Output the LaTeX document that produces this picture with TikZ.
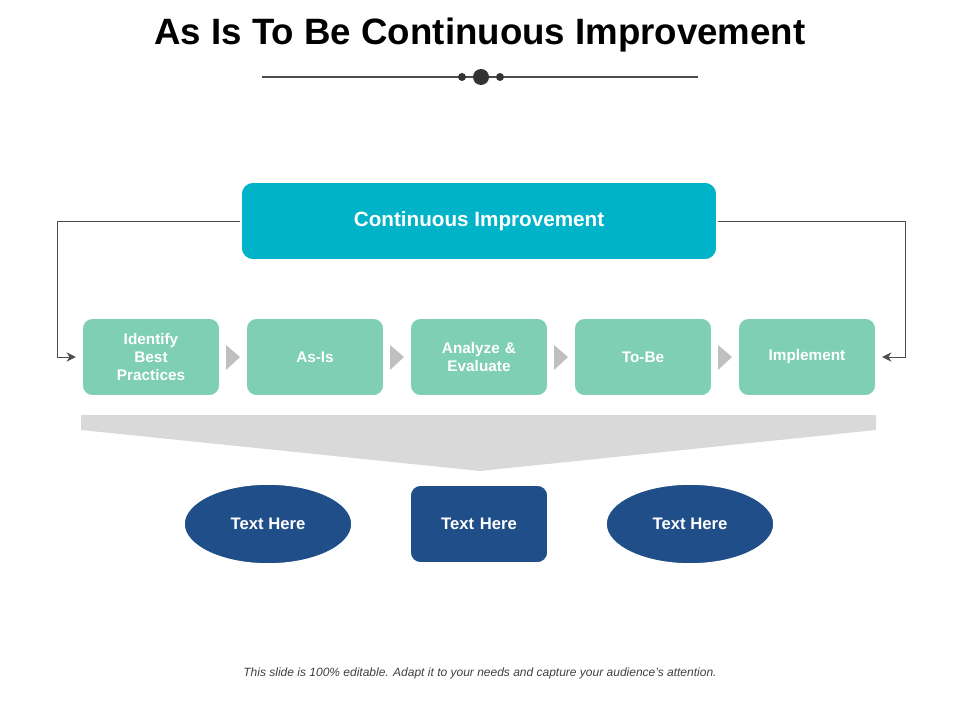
\documentclass[tikz,border=0pt]{standalone}
\usepackage{fontspec}
\setmainfont{Liberation Sans}
\usetikzlibrary{positioning,shapes.geometric,arrows.meta}
\definecolor{cyanbox}{HTML}{00B3C9}
\definecolor{mintbox}{HTML}{7ECFB4}
\definecolor{navybox}{HTML}{1F4E89}
\definecolor{chev}{HTML}{BFBFBF}
\definecolor{funnel}{HTML}{D9D9D9}
\tikzset{
  stepbox/.style={fill=mintbox, draw=white, line width=1.2pt, rounded corners=8pt, minimum width=103.5pt, minimum height=58.5pt, text width=90pt, align=center, text=white, font=\bfseries\fontsize{11.5}{13.5}\selectfont},
  textbox/.style={fill=navybox, draw=white, line width=1.2pt, text=white, font=\bfseries\fontsize{12.5}{14}\selectfont},
  loopline/.style={draw=black!70, line width=0.6pt, -{Stealth[length=7pt,width=7pt]}},
}
\begin{document}
\begin{tikzpicture}[x=0.75pt,y=-0.75pt]
  \useasboundingbox (0,0) rectangle (960,720);
  \node[font=\bfseries\fontsize{27.5}{32}\selectfont] (title) at (480,35) {As Is To Be Continuous Improvement};
  \draw[black!70, line width=0.8pt] (262,77) -- (698,77);
  \fill[black!80] (462,77) circle (4) (481,77) circle (8) (500,77) circle (4);
  % top box
  \node[fill=cyanbox, draw=white, line width=1.2pt, rounded corners=9pt, minimum width=357pt, minimum height=58.5pt, text=white, font=\bfseries\fontsize{15.5}{18}\selectfont] (ci) at (479,221) {Continuous Improvement};
  % process steps
  \node[stepbox] (s1) at (151,357) {Identify\\Best\\Practices};
  \node[stepbox] (s2) at (315,357) {As-Is};
  \node[stepbox] (s3) at (479,357) {Analyze \&\\Evaluate};
  \node[stepbox] (s4) at (643,357) {To-Be};
  \node[stepbox] (s5) at (807,357) {Implement};
  \foreach \x in {233,397,561,725}
    \fill[chev] (\x-7,345) -- (\x+7,357) -- (\x-7,370) -- cycle;
  % feedback lines
  \coordinate (lt) at (57,221);
  \coordinate (rt) at (905,221);
  \draw[loopline] (ci.west) -- (lt) |- ([xshift=-4pt]s1.west);
  \draw[loopline] (ci.east) -- (rt) |- ([xshift=4pt]s5.east);
  % funnel
  \fill[funnel] (81,415) -- (876,415) -- (876,430) -- (480,471) -- (81,430) -- cycle;
  % bottom shapes
  \node[textbox, ellipse, minimum width=126pt, minimum height=60pt] (t1) at (268,524) {Text Here};
  \node[stepbox, fill=navybox, font=\bfseries\fontsize{12.5}{14}\selectfont] (t2) at (479,524) {Text Here};
  \node[textbox, ellipse, minimum width=126pt, minimum height=60pt] (t3) at (690,524) {Text Here};
  \node[font=\itshape\fontsize{9}{11}\selectfont, text=black!75] (foot) at (480,673) {This slide is 100\% editable. Adapt it to your needs and capture your audience's attention.};
\end{tikzpicture}
\end{document}
